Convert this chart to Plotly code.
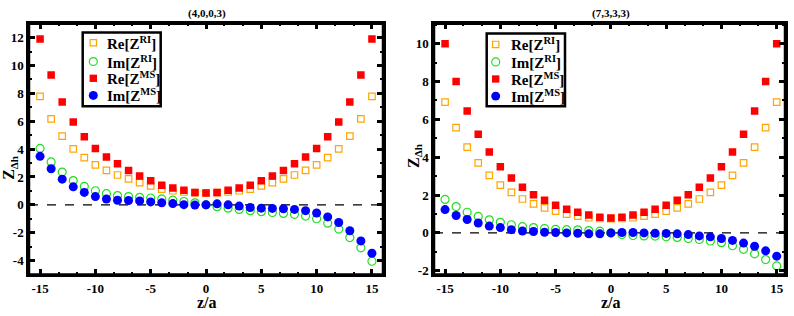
import plotly.graph_objects as go

z = list(range(-15, 16))

# Panel (4,0,0,3)
L_reRI = [7.79, 6.17, 4.93, 4.02, 3.39, 2.87, 2.47, 2.14, 1.86, 1.60, 1.36, 1.13, 1.01, 0.92, 0.87, 0.85,
          0.87, 0.92, 1.01, 1.13, 1.36, 1.60, 1.86, 2.14, 2.47, 2.87, 3.39, 4.02, 4.93, 6.17, 7.79]
L_imRI = [4.05, 3.08, 2.35, 1.74, 1.32, 1.01, 0.80, 0.66, 0.59, 0.54, 0.49, 0.42, 0.33, 0.24, 0.14, 0.00,
          -0.13, -0.24, -0.33, -0.42, -0.49, -0.55, -0.62, -0.68, -0.81, -1.00, -1.32, -1.74, -2.35, -3.09, -4.05]
L_reMS = [11.9, 9.31, 7.38, 5.95, 4.88, 4.05, 3.43, 2.94, 2.47, 2.07, 1.72, 1.41, 1.20, 1.04, 0.89, 0.85,
          0.89, 1.04, 1.20, 1.41, 1.72, 2.07, 2.47, 2.94, 3.43, 4.05, 4.88, 5.95, 7.38, 9.31, 11.9]
L_imMS = [3.48, 2.59, 1.84, 1.29, 0.89, 0.59, 0.42, 0.33, 0.31, 0.28, 0.21, 0.14, 0.09, 0.01, -0.02, 0.00,
          0.07, 0.00, -0.09, -0.19, -0.24, -0.26, -0.28, -0.33, -0.42, -0.59, -0.87, -1.27, -1.86, -2.59, -3.48]

# Panel (7,3,3,3)
R_reRI = [6.91, 5.57, 4.53, 3.70, 3.04, 2.53, 2.14, 1.79, 1.53, 1.32, 1.15, 0.99, 0.89, 0.80, 0.76, 0.75,
          0.76, 0.80, 0.89, 0.99, 1.15, 1.32, 1.53, 1.79, 2.14, 2.53, 3.04, 3.70, 4.53, 5.57, 6.91]
R_imRI = [1.77, 1.39, 1.09, 0.87, 0.69, 0.56, 0.43, 0.33, 0.28, 0.23, 0.19, 0.17, 0.16, 0.12, 0.09, 0.00,
          -0.09, -0.14, -0.16, -0.17, -0.21, -0.24, -0.30, -0.35, -0.43, -0.52, -0.68, -0.87, -1.11, -1.41, -1.75]
R_reMS = [10.0, 8.00, 6.44, 5.21, 4.27, 3.49, 2.90, 2.41, 2.01, 1.72, 1.46, 1.25, 1.09, 0.94, 0.82, 0.78,
          0.82, 0.94, 1.09, 1.25, 1.46, 1.72, 2.01, 2.41, 2.90, 3.49, 4.27, 5.21, 6.44, 8.00, 10.0]
R_imMS = [1.23, 0.92, 0.71, 0.52, 0.36, 0.28, 0.17, 0.10, 0.07, 0.03, 0.02, 0.00, -0.02, -0.05, -0.05, 0.00,
          0.02, 0.02, 0.00, -0.02, -0.03, -0.05, -0.09, -0.16, -0.21, -0.30, -0.40, -0.54, -0.71, -0.95, -1.23]

panel_titles = ["(4,0,0,3)", "(7,3,3,3)"]
names = ["Re[Z<sup>RI</sup>]", "Im[Z<sup>RI</sup>]", "Re[Z<sup>MS</sup>]", "Im[Z<sup>MS</sup>]"]
x_ticks = [-15, -10, -5, 0, 5, 10, 15]
y_ticks_left = [-4, -2, 0, 2, 4, 6, 8, 10, 12]
y_ticks_right = [-2, 0, 2, 4, 6, 8, 10]

ORANGE = "#FFA500"
GREEN = "#22DD22"
RED = "#FF0000"
BLUE = "#0000FF"
FONT = "Liberation Serif"
colors = [ORANGE, GREEN, RED, BLUE]

styles = [
    dict(symbol="square-open", size=6.5, color=ORANGE, line=dict(width=1.2, color=ORANGE)),
    dict(symbol="circle-open", size=8, color=GREEN, line=dict(width=1.2, color=GREEN)),
    dict(symbol="square", size=7.5, color=RED, line=dict(width=0)),
    dict(symbol="circle", size=9, color=BLUE, line=dict(width=0)),
]

fig = go.Figure()
panels = [(L_reRI, L_imRI, L_reMS, L_imMS), (R_reRI, R_imRI, R_reMS, R_imMS)]
for p, series in enumerate(panels):
    xa = "x" if p == 0 else "x2"
    ya = "y" if p == 0 else "y2"
    for k, vals in enumerate(series):
        fig.add_trace(go.Scatter(
            x=z, y=vals, mode="markers", name=names[k], showlegend=False,
            marker=styles[k], xaxis=xa, yaxis=ya,
        ))

W, H = 794, 316
xd1 = [29 / W, 383 / W]
xd2 = [434 / W, 785 / W]
yd = [(H - 278) / H, (H - 24) / H]

tickfont = dict(family=FONT, size=13, color="black")


def bold(vals):
    return [f"<b>{v}</b>" for v in vals]


def axis(domain, rng, ticks, minor_dt, anchor):
    return dict(
        domain=domain, range=rng, anchor=anchor,
        tickmode="array", tickvals=ticks, ticktext=bold(ticks),
        showline=True, linewidth=2.5, linecolor="#000000", mirror="ticks",
        ticks="inside", ticklen=6, tickwidth=2.5, tickcolor="#000000",
        minor=dict(dtick=minor_dt, tick0=0, ticks="inside", ticklen=3, tickwidth=2, tickcolor="#000000"),
        showgrid=False, zeroline=False, tickfont=tickfont,
    )


fig.update_layout(
    width=W, height=H, margin=dict(l=0, r=0, t=0, b=0),
    paper_bgcolor="white", plot_bgcolor="white", showlegend=False,
    xaxis=axis(xd1, [-16, 16], x_ticks, 5 / 3, "y"),
    yaxis=axis(yd, [-5, 13], y_ticks_left, 1, "x"),
    xaxis2=axis(xd2, [-16, 15.75], x_ticks, 5 / 3, "y2"),
    yaxis2=axis(yd, [-2.2, 11.06], y_ticks_right, 1, "x2"),
)


def px(xv):
    return xv / W


def py(yv):
    return 1 - yv / H


# panel frames (paper shapes) and dashed zero lines
for (xa0, xa1) in [xd1, xd2]:
    fig.add_shape(type="rect", xref="paper", yref="paper", x0=xa0, x1=xa1, y0=yd[0], y1=yd[1],
                  line=dict(color="#000000", width=2.5), layer="above")
for xr, yr in [("x", "y"), ("x2", "y2")]:
    fig.add_shape(type="line", xref=f"{xr} domain", yref=yr, x0=0, x1=1, y0=0, y1=0,
                  line=dict(color="#000000", width=1.2, dash="dash"), layer="below")

legend_boxes = [(82.7, 33, 160.7, 107.7), (486.7, 34, 565, 107.7)]
legend_sym_x = [93.3, 495.7]
legend_text_x = [105, 509]
legend_rows = [[43.3, 62.3, 79.3, 96.7], [45, 62.7, 80, 97.3]]

for b, (x0, y0, x1, y1) in enumerate(legend_boxes):
    fig.add_shape(type="rect", xref="paper", yref="paper", x0=px(x0), x1=px(x1), y0=py(y1), y1=py(y0),
                  line=dict(color="#000000", width=2.5), fillcolor="white", layer="above")
    sx = legend_sym_x[b]
    for k in range(4):
        ry = legend_rows[b][k]
        col = colors[k]
        if k in (0, 2):
            h = 3.2 if k == 0 else 3.7
            fig.add_shape(type="rect", xref="paper", yref="paper",
                          x0=px(sx - h), x1=px(sx + h), y0=py(ry + h), y1=py(ry - h),
                          line=dict(color=col, width=1.2 if k == 0 else 0),
                          fillcolor="white" if k == 0 else col, layer="above")
        else:
            r = 4 if k == 1 else 4.5
            fig.add_shape(type="circle", xref="paper", yref="paper",
                          x0=px(sx - r), x1=px(sx + r), y0=py(ry + r), y1=py(ry - r),
                          line=dict(color=col, width=1.2 if k == 1 else 0),
                          fillcolor="white" if k == 1 else col, layer="above")
        fig.add_annotation(x=px(legend_text_x[b]), y=py(ry), xref="paper", yref="paper",
                           xanchor="left", yanchor="middle", text=f"<b>{names[k]}</b>",
                           showarrow=False, font=dict(family=FONT, size=15, color="black"))

for cx, t in zip([206.5, 610.5], panel_titles):
    fig.add_annotation(x=px(cx), y=py(14), xref="paper", yref="paper", text=f"<b>{t}</b>",
                       xanchor="center", yanchor="middle",
                       showarrow=False, font=dict(family=FONT, size=11, color="black"))
    fig.add_annotation(x=px(cx), y=py(306), xref="paper", yref="paper", text="<b>z/a</b>",
                       xanchor="center", yanchor="middle",
                       showarrow=False, font=dict(family=FONT, size=16, color="black"))
for cx, cy in [(10, 170), (414, 158)]:
    fig.add_annotation(x=px(cx), y=py(cy), xref="paper", yref="paper", text="<b>Z<sub>Δh</sub></b>",
                       xanchor="center", yanchor="middle",
                       textangle=-90, showarrow=False, font=dict(family=FONT, size=16, color="black"))

fig.write_html("out.html")
